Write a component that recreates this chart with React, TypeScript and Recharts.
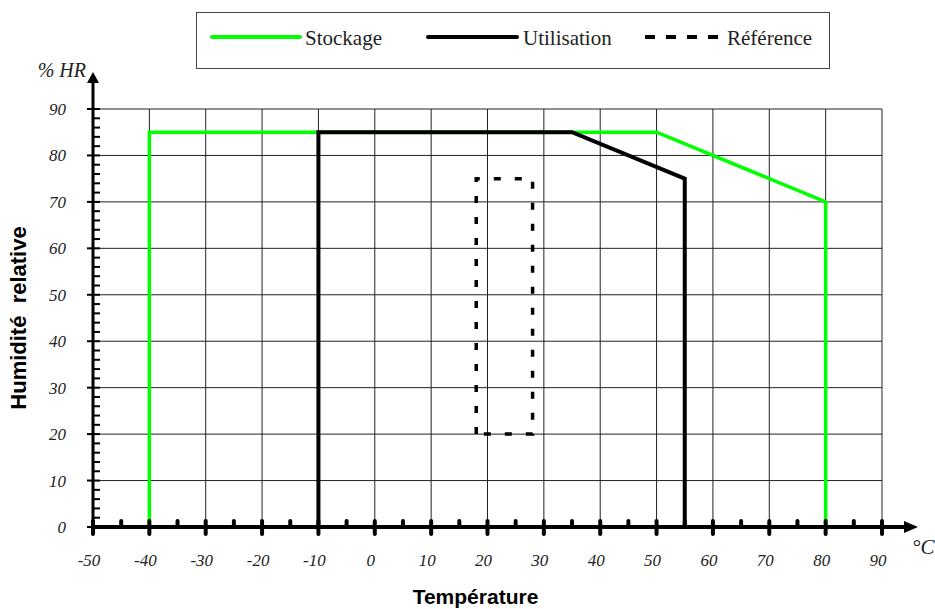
// Plage de température / humidité : stockage, utilisation, référence
import { LineChart, Line, XAxis, YAxis, CartesianGrid } from 'recharts';

const temperatureTicks = [
    -50, -45, -40, -35, -30, -25, -20, -15, -10, -5, 0, 5, 10, 15, 20, 25, 30, 35, 40, 45, 50, 55, 60, 65, 70, 75, 80,
    85, 90,
];
const humidityTicks = [
    0, 2, 4, 6, 8, 10, 12, 14, 16, 18, 20, 22, 24, 26, 28, 30, 32, 34, 36, 38, 40, 42, 44, 46, 48, 50, 52, 54, 56, 58,
    60, 62, 64, 66, 68, 70, 72, 74, 76, 78, 80, 82, 84, 86, 88, 90,
];
const temperatureGrid = [-40, -30, -20, -10, 0, 10, 20, 30, 40, 50, 60, 70, 80, 90];
const humidityGrid = [10, 20, 30, 40, 50, 60, 70, 80, 90];

// contours (°C, %HR)
const stockageT = [-40, -40, 50, 80, 80];
const stockageHR = [0, 85, 85, 70, 0];
const utilisationT = [-10, -10, 35, 55, 55];
const utilisationHR = [0, 85, 85, 75, 0];
const referenceT = [18, 18, 28, 28, 18];
const referenceHR = [20, 75, 75, 20, 20];

const toPoints = (ts: number[], hrs: number[]) => ts.map((t, i) => ({ t, hr: hrs[i] }));

const series = [
    { name: 'Stockage', color: '#00ff00', dash: undefined, width: 3.5, data: toPoints(stockageT, stockageHR) },
    { name: 'Utilisation', color: '#000000', dash: undefined, width: 4, data: toPoints(utilisationT, utilisationHR) },
    { name: 'Référence', color: '#000000', dash: '7 14', width: 3.5, data: toPoints(referenceT, referenceHR) },
];

const SERIF = "'Liberation Serif', 'Times New Roman', serif";
const SANS = "'Liberation Sans', Arial, sans-serif";

function XTick(props: any) {
    const { x, y, payload } = props;
    const v = payload.value;
    const major = v % 10 === 0;
    return (
        <g>
            <line x1={x} y1={y - 6} x2={x} y2={major ? y + 7 : y} stroke="#000" strokeWidth={4} strokeLinecap="round" />
            {major && (
                <text x={x - 4} y={y + 39} textAnchor="middle" fontFamily={SERIF} fontStyle="italic" fontSize={17} fill="#222">
                    {v}
                </text>
            )}
            {v === 90 && (
                <g>
                    <line x1={x} y1={y} x2={x + 24} y2={y} stroke="#000" strokeWidth={4} />
                    <polygon points={`${x + 22},${y - 6} ${x + 36},${y} ${x + 22},${y + 6}`} fill="#000" />
                    <text x={x + 30} y={y + 27} fontFamily={SERIF} fontStyle="italic" fontSize={21} fill="#222">
                        °C
                    </text>
                </g>
            )}
        </g>
    );
}

function YTick(props: any) {
    const { x, y, payload } = props;
    const v = payload.value;
    const major = v % 10 === 0;
    return (
        <g>
            <line x1={major ? x - 6 : x} y1={y} x2={x + 7} y2={y} stroke="#000" strokeWidth={2} />
            {major && (
                <text x={x - 27} y={y + 6} textAnchor="end" fontFamily={SERIF} fontStyle="italic" fontSize={17} fill="#222">
                    {v}
                </text>
            )}
            {v === 90 && (
                <g>
                    <line x1={x} y1={y} x2={x} y2={y - 28} stroke="#000" strokeWidth={3} />
                    <polygon points={`${x - 6},${y - 26} ${x},${y - 37} ${x + 6},${y - 26}`} fill="#000" />
                    <text x={x - 7} y={y - 32} textAnchor="end" fontFamily={SERIF} fontStyle="italic" fontSize={20} fill="#222">
                        % HR
                    </text>
                </g>
            )}
        </g>
    );
}

function LegendBox() {
    const items = [
        { x1: 212, x2: 300, tx: 305 },
        { x1: 428, x2: 517, tx: 523 },
        { x1: 645, x2: 718, tx: 727 },
    ];
    return (
        <svg width={935} height={80} style={{ position: 'absolute', left: 0, top: 0, pointerEvents: 'none' }}>
            <rect x={196.5} y={12.5} width={633} height={56} fill="#fff" stroke="#444" strokeWidth={1} />
            {series.map((s, i) => (
                <g key={s.name}>
                    <line
                        x1={items[i].x1}
                        y1={37}
                        x2={items[i].x2}
                        y2={37}
                        stroke={s.color}
                        strokeWidth={4}
                        strokeLinecap={s.dash ? 'butt' : 'round'}
                        strokeDasharray={s.dash ? '10 11' : undefined}
                    />
                    <text x={items[i].tx} y={45} fontFamily={SERIF} fontSize={21} fill="#222">
                        {s.name}
                    </text>
                </g>
            ))}
        </svg>
    );
}

export default function App() {
    return (
        <div style={{ position: 'absolute', left: 0, top: 0, width: 935, height: 609, background: '#fff' }}>
            <LineChart width={935} height={609} margin={{ top: 109, right: 53, bottom: 0, left: 0 }}>
                <CartesianGrid
                    stroke="#222"
                    strokeWidth={1}
                    horizontalValues={humidityGrid}
                    verticalValues={temperatureGrid}
                />
                <XAxis
                    type="number"
                    dataKey="t"
                    domain={[-50, 90]}
                    ticks={temperatureTicks}
                    interval={0}
                    height={82}
                    tickSize={0}
                    tickMargin={0}
                    tickLine={false}
                    axisLine={{ stroke: '#000', strokeWidth: 4 }}
                    tick={<XTick />}
                    label={{
                        content: (p: any) => {
                            const vb = p.viewBox;
                            return (
                                <text
                                    x={vb.x + vb.width / 2 - 12}
                                    y={vb.y + 77}
                                    textAnchor="middle"
                                    fontFamily={SANS}
                                    fontWeight="bold"
                                    fontSize={21}
                                    fill="#000"
                                >
                                    Température
                                </text>
                            );
                        },
                    }}
                />
                <YAxis
                    type="number"
                    dataKey="hr"
                    domain={[0, 90]}
                    ticks={humidityTicks}
                    interval={0}
                    width={93}
                    tickSize={0}
                    tickMargin={0}
                    tickLine={false}
                    axisLine={{ stroke: '#000', strokeWidth: 3 }}
                    tick={<YTick />}
                    label={{
                        content: (p: any) => {
                            const vb = p.viewBox;
                            const cx = 26;
                            const cy = vb.y + vb.height / 2;
                            return (
                                <text
                                    x={cx}
                                    y={cy}
                                    transform={`rotate(-90 ${cx} ${cy})`}
                                    textAnchor="middle"
                                    fontFamily={SANS}
                                    fontWeight="bold"
                                    fontSize={22}
                                    fill="#000"
                                    style={{ whiteSpace: 'pre' }}
                                >
                                    {'Humidité  relative'}
                                </text>
                            );
                        },
                    }}
                />
                {series.map((s) => (
                    <Line
                        key={s.name}
                        data={s.data}
                        dataKey="hr"
                        name={s.name}
                        type="linear"
                        stroke={s.color}
                        strokeWidth={s.width}
                        strokeDasharray={s.dash}
                        dot={false}
                        activeDot={false}
                        isAnimationActive={false}
                    />
                ))}
            </LineChart>
            <LegendBox />
        </div>
    );
}
